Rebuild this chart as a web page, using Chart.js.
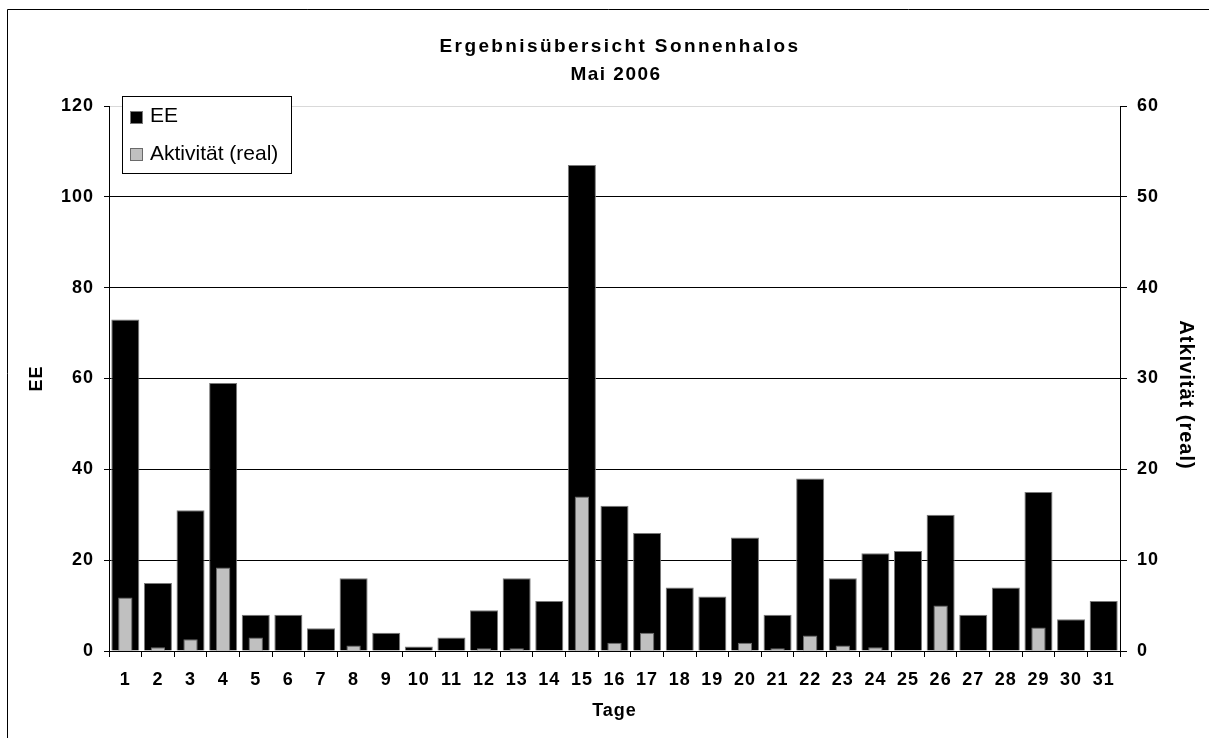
<!DOCTYPE html>
<html>
<head>
<meta charset="utf-8">
<script src="https://cdn.jsdelivr.net/npm/chart.js@4/dist/chart.umd.min.js"></script>
<style>
html,body{margin:0;padding:0;background:#fff;}
#wrap{width:1209px;height:738px;position:relative;}
</style>
</head>
<body>
<div id="wrap"><canvas id="c" width="1209" height="738"></canvas></div>
<script>
// ---- data ----
const days = ['1','2','3','4','5','6','7','8','9','10','11','12','13','14','15','16','17','18','19','20','21','22','23','24','25','26','27','28','29','30','31'];
const eeValues = [73,15,31,59,8,8,5,16,4,1,3,9,16,11,107,32,26,14,12,25,8,38,16,21.5,22,30,8,14,35,7,11];
const aktivitaetValues = [5.9,0.4,1.3,9.2,1.5,0,0,0.6,0,0,0,0.3,0.3,0,17,0.9,2,0,0,0.9,0.3,1.7,0.6,0.4,0,5,0,0,2.6,0,0];
const eeAxisTicks = [0,20,40,60,80,100,120];
const aktAxisTicks = [0,10,20,30,40,50,60];
const titleLines = ['Ergebnisübersicht Sonnenhalos','Mai 2006'];
const seriesNames = ['EE','Aktivität (real)'];
const leftAxisTitle = 'EE';
const rightAxisTitle = 'Atkivität (real)';
const xAxisTitle = 'Tage';

const FONT = "'Liberation Sans', Arial, sans-serif";
Chart.defaults.font.family = FONT;
Chart.defaults.color = '#000';

function setSpacing(ctx, v) { try { ctx.letterSpacing = v; } catch (e) {} }

const decor = {
  id: 'decor',
  beforeDraw(chart) {
    const ctx = chart.ctx;
    ctx.save();
    ctx.fillStyle = '#fff';
    ctx.fillRect(0, 0, chart.width, chart.height);
    ctx.strokeStyle = '#000';
    ctx.lineWidth = 1;
    ctx.beginPath();
    ctx.moveTo(7.5, chart.height);
    ctx.lineTo(7.5, 9.5);
    ctx.lineTo(chart.width, 9.5);
    ctx.stroke();
    ctx.restore();
    // slightly spaced glyphs for axis texts, like the original rendering
    setSpacing(ctx, '1px');
  },
  afterDraw(chart) {
    const ctx = chart.ctx;
    ctx.save();
    // title
    ctx.fillStyle = '#000';
    ctx.font = 'bold 19px ' + FONT;
    ctx.textAlign = 'center';
    ctx.textBaseline = 'alphabetic';
    setSpacing(ctx, '2.4px');
    ctx.fillText(titleLines[0], 620, 52);
    setSpacing(ctx, '1.5px');
    ctx.fillText(titleLines[1], 616, 80);
    // right axis title
    ctx.save();
    ctx.font = 'bold 20px ' + FONT;
    setSpacing(ctx, '1px');
    ctx.translate(1186, 395);
    ctx.rotate(Math.PI / 2);
    ctx.textBaseline = 'middle';
    ctx.fillText(rightAxisTitle, 0, 0);
    ctx.restore();
    setSpacing(ctx, '0px');
    // legend
    ctx.fillStyle = '#fff';
    ctx.fillRect(122, 96, 170, 77);
    ctx.strokeStyle = '#000';
    ctx.lineWidth = 1;
    ctx.strokeRect(122.5, 96.5, 169, 77);
    const ds = chart.data.datasets;
    const rows = [{y: 111, base: 122}, {y: 148, base: 159.5}];
    rows.forEach((r, i) => {
      ctx.fillStyle = ds[i].backgroundColor;
      ctx.fillRect(130, r.y, 13, 13);
      ctx.strokeStyle = ds[i].borderColor;
      ctx.strokeRect(130.5, r.y + 0.5, 12, 12);
      ctx.fillStyle = '#000';
      ctx.font = '21px ' + FONT;
      ctx.textAlign = 'left';
      ctx.textBaseline = 'alphabetic';
      ctx.fillText(ds[i].label, 150, r.base);
    });
    ctx.restore();
  }
};

new Chart(document.getElementById('c'), {
  type: 'bar',
  data: {
    labels: days,
    datasets: [
      {label: seriesNames[0], data: eeValues, yAxisID: 'y', backgroundColor: '#000000', borderColor: '#7a7a7a', borderWidth: 1,
       barPercentage: 0.86, categoryPercentage: 1, grouped: false, order: 2},
      {label: seriesNames[1], data: aktivitaetValues, yAxisID: 'y1', backgroundColor: '#c0c0c0', borderColor: '#6a6a6a', borderWidth: 1,
       barPercentage: 0.44, categoryPercentage: 1, grouped: false, order: 1}
    ]
  },
  options: {
    responsive: false,
    animation: false,
    devicePixelRatio: 1,
    layout: {padding: {top: 106, left: 0, right: 0, bottom: 0}},
    plugins: {legend: {display: false}, tooltip: {enabled: false}, title: {display: false}},
    scales: {
      x: {
        grid: {offset: true, drawOnChartArea: false, tickLength: 6, tickColor: '#000', tickWidth: 1},
        border: {color: '#000', width: 1},
        ticks: {font: {size: 18, weight: 'bold'}, padding: 12, maxRotation: 0, autoSkip: false, color: '#000'},
        title: {display: true, text: xAxisTitle, font: {size: 18, weight: 'bold'}, color: '#000', padding: {top: 0, bottom: 16}},
        afterFit(s) { s.height = 87; }
      },
      y: {
        position: 'left', min: 0, max: 120,
        afterBuildTicks(s) { s.ticks = eeAxisTicks.map(v => ({value: v})); },
        ticks: {font: {size: 18, weight: 'bold'}, padding: 10, color: '#000'},
        grid: {color: c => (c.tick && c.tick.value === 120) ? '#d9d9d9' : '#000', tickColor: '#000', tickLength: 5, lineWidth: 1},
        border: {color: '#000', width: 1},
        title: {display: true, text: leftAxisTitle, font: {size: 18, weight: 'bold'}, color: '#000', padding: {top: 26, bottom: 0}},
        afterFit(s) { s.width = 109; }
      },
      y1: {
        position: 'right', min: 0, max: 60,
        afterBuildTicks(s) { s.ticks = aktAxisTicks.map(v => ({value: v})); },
        ticks: {font: {size: 18, weight: 'bold'}, padding: 10, color: '#000'},
        grid: {drawOnChartArea: false, tickColor: '#000', tickLength: 7},
        border: {color: '#000', width: 1},
        afterFit(s) { s.width = 89; }
      }
    }
  },
  plugins: [decor]
});
</script>
</body>
</html>
